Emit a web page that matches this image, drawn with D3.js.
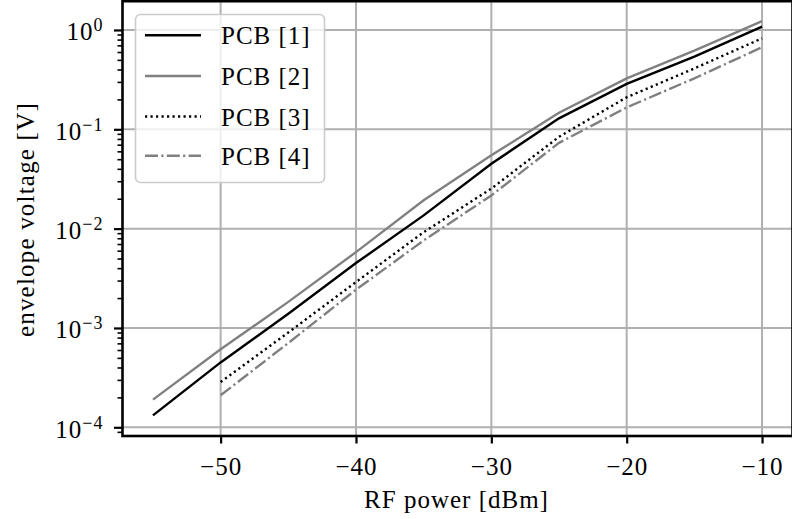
<!DOCTYPE html>
<html>
<head>
<meta charset="utf-8">
<script src="https://cdn.jsdelivr.net/npm/d3@7"></script>
<style>
  html, body { margin: 0; padding: 0; background: #fff; }
  svg { display: block; }
  text { font-family: "Liberation Serif", "Times New Roman", serif; fill: #000; }
</style>
</head>
<body>
<svg id="chart" width="792" height="519"></svg>
<script>
// ---- data ----
const powerFull = [-55, -50, -45, -40, -35, -30, -25, -20, -15, -10];
const powerShort = [-50, -45, -40, -35, -30, -25, -20, -15, -10];
const pcb1 = [1.32e-4, 4.5e-4, 1.39e-3, 4.5e-3, 1.36e-2, 4.5e-2, 0.129, 0.286, 0.54, 1.08];
const pcb2 = [1.9e-4, 6.1e-4, 1.83e-3, 5.8e-3, 1.93e-2, 5.47e-2, 0.147, 0.326, 0.62, 1.23];
const pcb3 = [2.86e-4, 9.0e-4, 2.9e-3, 9.2e-3, 2.53e-2, 0.084, 0.21, 0.41, 0.824];
const pcb4 = [2.1e-4, 7.06e-4, 2.43e-3, 7.6e-3, 2.16e-2, 0.073, 0.166, 0.326, 0.67];
const seriesNames = ["PCB [1]", "PCB [2]", "PCB [3]", "PCB [4]"];
const xTicks = [-50, -40, -30, -20, -10];
const yTickExps = [0, -1, -2, -3, -4];
const xDomain = [-57.25, -7.75];
const yDomain = [Math.pow(10, -4.0876), Math.pow(10, 0.2896)];
const xLabel = "RF power [dBm]";
const yLabel = "envelope voltage [V]";

// ---- layout ----
const L = 122.5, R = 792.5, T = 1.2, B = 436;
const svg = d3.select("#chart");
const x = d3.scaleLinear().domain(xDomain).range([L, R]);
const y = d3.scaleLog().domain(yDomain).range([B, T]);

const styles = [
  { color: "#000000", dash: null },
  { color: "#808080", dash: null },
  { color: "#000000", dash: "2.2,3.3" },
  { color: "#808080", dash: "13,3.3,2.2,3.3" }
];
const series = [
  { xs: powerFull, ys: pcb1 },
  { xs: powerFull, ys: pcb2 },
  { xs: powerShort, ys: pcb3 },
  { xs: powerShort, ys: pcb4 }
];
const LW = 2.4;

svg.append("defs").append("clipPath").attr("id", "clip")
  .append("rect").attr("x", L).attr("y", T).attr("width", R - L).attr("height", B - T);

// grid
const grid = svg.append("g").attr("clip-path", "url(#clip)");
grid.selectAll("line.gx").data(xTicks).join("line")
  .attr("x1", d => x(d)).attr("x2", d => x(d)).attr("y1", T).attr("y2", B)
  .attr("stroke", "#b0b0b0").attr("stroke-width", 2);
grid.selectAll("line.gy").data(yTickExps).join("line")
  .attr("y1", d => y(Math.pow(10, d))).attr("y2", d => y(Math.pow(10, d))).attr("x1", L).attr("x2", R)
  .attr("stroke", "#b0b0b0").attr("stroke-width", 2);

// lines
const lineGen = d3.line().x(d => x(d[0])).y(d => y(d[1]));
const lg = svg.append("g").attr("clip-path", "url(#clip)");
series.forEach((s, i) => {
  lg.append("path")
    .attr("d", lineGen(s.xs.map((v, k) => [v, s.ys[k]])))
    .attr("fill", "none")
    .attr("stroke", styles[i].color)
    .attr("stroke-width", LW)
    .attr("stroke-dasharray", styles[i].dash)
    .attr("stroke-linecap", "butt");
});

// x axis
const xAxis = d3.axisBottom(x).tickValues(xTicks).tickSize(7.5).tickPadding(10)
  .tickFormat(d => "\u2212" + Math.abs(d));
const gx = svg.append("g").attr("transform", `translate(0,${B})`).call(xAxis);
gx.select(".domain").remove();
gx.selectAll(".tick line").attr("stroke", "#000").attr("stroke-width", 2.2);
gx.selectAll(".tick text").attr("font-size", 25).attr("letter-spacing", 1)
  .attr("font-family", "Liberation Serif").attr("dy", null).attr("y", 38.5);

// y axis (major + minor)
const minorVals = [];
for (let e = -5; e <= 0; e++) for (let m = 2; m <= 9; m++) {
  const v = m * Math.pow(10, e);
  if (v >= yDomain[0] && v <= yDomain[1]) minorVals.push(v);
}
const yAxisMinor = d3.axisLeft(y).tickValues(minorVals).tickSize(5).tickFormat("");
const gym = svg.append("g").attr("transform", `translate(${L},0)`).call(yAxisMinor);
gym.select(".domain").remove();
gym.selectAll(".tick line").attr("stroke", "#000").attr("stroke-width", 1.6);

const yAxis = d3.axisLeft(y).tickValues(yTickExps.map(e => Math.pow(10, e))).tickSize(8.5).tickFormat("");
const gy = svg.append("g").attr("transform", `translate(${L},0)`).call(yAxis);
gy.select(".domain").remove();
gy.selectAll(".tick line").attr("stroke", "#000").attr("stroke-width", 2.2);
gy.selectAll(".tick").each(function(d) {
  const e = Math.round(Math.log10(d));
  const t = d3.select(this).append("text")
    .attr("x", -19).attr("y", 10).attr("text-anchor", "end")
    .attr("font-size", 25).attr("letter-spacing", 1);
  t.append("tspan").text("10");
  t.append("tspan").attr("dy", -9).attr("font-size", 18)
    .text(e < 0 ? "\u2212" + Math.abs(e) : String(e));
});

// spines
svg.append("rect").attr("x", L).attr("y", T).attr("width", R - L).attr("height", B - T)
  .attr("fill", "none").attr("stroke", "#000").attr("stroke-width", 2.6);

// axis labels
svg.append("text").attr("x", (L + R) / 2 - 1).attr("y", 508)
  .attr("text-anchor", "middle").attr("font-size", 25).attr("letter-spacing", 1)
  .text(xLabel);
svg.append("text").attr("transform", `translate(34,${(T + B) / 2 + 1}) rotate(-90)`)
  .attr("text-anchor", "middle").attr("font-size", 25).attr("letter-spacing", 1.2)
  .text(yLabel);

// legend
const leg = svg.append("g");
leg.append("rect").attr("x", 135.5).attr("y", 14.5).attr("width", 189).attr("height", 168)
  .attr("rx", 5).attr("fill", "#fff").attr("fill-opacity", 0.8)
  .attr("stroke", "#cccccc").attr("stroke-width", 1.6);
const rowY = [35.3, 76, 116.5, 155.7];
seriesNames.forEach((name, i) => {
  leg.append("line").attr("x1", 145).attr("x2", 201).attr("y1", rowY[i]).attr("y2", rowY[i])
    .attr("stroke", styles[i].color).attr("stroke-width", LW)
    .attr("stroke-dasharray", styles[i].dash);
  leg.append("text").attr("x", 221).attr("y", rowY[i] + 9)
    .attr("font-size", 25).attr("letter-spacing", 1).text(name);
});
</script>
</body>
</html>
